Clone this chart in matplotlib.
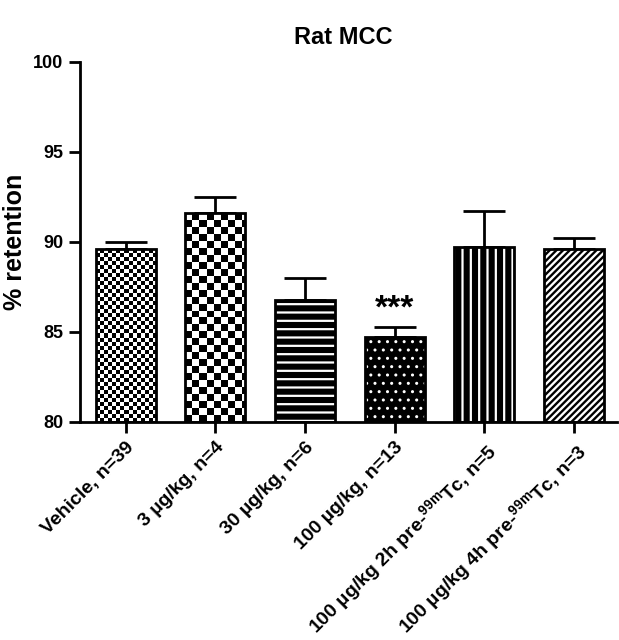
import numpy as np
import matplotlib
matplotlib.use("Agg")
import matplotlib.pyplot as plt

plt.rcParams['font.family'] = ['Liberation Sans', 'DejaVu Sans']
plt.rcParams['font.weight'] = 'bold'
plt.rcParams['mathtext.default'] = 'bf'
plt.rcParams['mathtext.fontset'] = 'custom'
plt.rcParams['mathtext.bf'] = 'Liberation Sans:bold'
plt.rcParams['mathtext.rm'] = 'Liberation Sans:bold'

categories = ["Vehicle, n=39", "3 µg/kg, n=4", "30 µg/kg, n=6", "100 µg/kg, n=13",
              "100 µg/kg 2h pre-$^{99m}$Tc, n=5", "100 µg/kg 4h pre-$^{99m}$Tc, n=3"]
means = [89.6, 91.6, 86.8, 84.7, 89.7, 89.6]
sem = [0.4, 0.9, 1.2, 0.6, 2.0, 0.6]
yticks = [80, 85, 90, 95, 100]

fig = plt.figure(figsize=(6.19, 6.40), dpi=100)
ax = fig.add_axes([80/619, 1-422/640, (617-80)/619, (422-62)/640])

x = np.arange(len(categories))
w = 0.67
base = 80

checker_cells = {0: (15, 43), 1: (8.5, 30)}
styles = {
    2: dict(face='black', hatchcol='white', hatch='--', hlw=1.6),
    3: dict(face='black', hatchcol='white', hatch='..', hlw=1.0),
    4: dict(face='black', hatchcol='white', hatch='||', hlw=1.6),
    5: dict(face='white', hatchcol='black', hatch='/////', hlw=1.7),
}

for i in range(len(categories)):
    h = means[i] - base
    if i in checker_cells:
        b = ax.bar(x[i], h, w, bottom=base, color='white', edgecolor='none', zorder=2)
        patch = b.patches[0]
        nx, ny = checker_cells[i]
        nxi, nyi = int(np.ceil(nx)), int(np.ceil(ny))
        ii, jj = np.meshgrid(np.arange(nxi), np.arange(nyi))
        img = ((ii + jj) % 2).astype(float)
        x0 = x[i] - w/2
        ext_w = w * nxi / nx
        ext_h = h * nyi / ny
        im = ax.imshow(img, cmap='gray_r', vmin=0, vmax=1, interpolation='nearest',
                       extent=[x0, x0 + ext_w, means[i] - ext_h, means[i]],
                       origin='upper', aspect='auto', zorder=2.5)
        im.set_clip_path(patch)
    else:
        s = styles[i]
        with plt.rc_context({'hatch.linewidth': s['hlw']}):
            b = ax.bar(x[i], h, w, bottom=base, color=s['face'], edgecolor=s['hatchcol'],
                       hatch=s['hatch'], linewidth=0, zorder=2)
    ax.bar(x[i], h, w, bottom=base, facecolor='none', edgecolor='black', linewidth=2, zorder=3)

ax.errorbar(x, means, yerr=[np.zeros(len(sem)), sem], fmt='none', ecolor='black',
            elinewidth=2, capsize=15, capthick=2, zorder=1)

ax.text(x[3], means[3] + sem[3] + 0.1, "***", ha='center', va='bottom', fontsize=24,
        fontweight='bold')

ax.set_xlim(-0.51, 5.48)
ax.set_ylim(80, 100)
ax.set_yticks(yticks)
ax.set_yticklabels([str(t) for t in yticks], fontsize=13, fontweight='bold')
ax.set_xticks(x)
ax.set_xticklabels(categories, rotation=45, ha='right', rotation_mode='anchor',
                   fontsize=14, fontweight='bold')
for sp in ['top', 'right']:
    ax.spines[sp].set_visible(False)
for sp in ['left', 'bottom']:
    ax.spines[sp].set_linewidth(2)
ax.tick_params(axis='both', width=2, length=8, direction='out', pad=4)
ax.set_ylabel("% retention", fontsize=18, fontweight='bold')
ax.yaxis.set_label_coords((27 - 80) / (617 - 80), 0.5)
fig.text(343/619, 1-37/640, "Rat MCC", ha='center', va='center', fontsize=17,
         fontweight='bold')

fig.savefig("out.png", dpi=100)
